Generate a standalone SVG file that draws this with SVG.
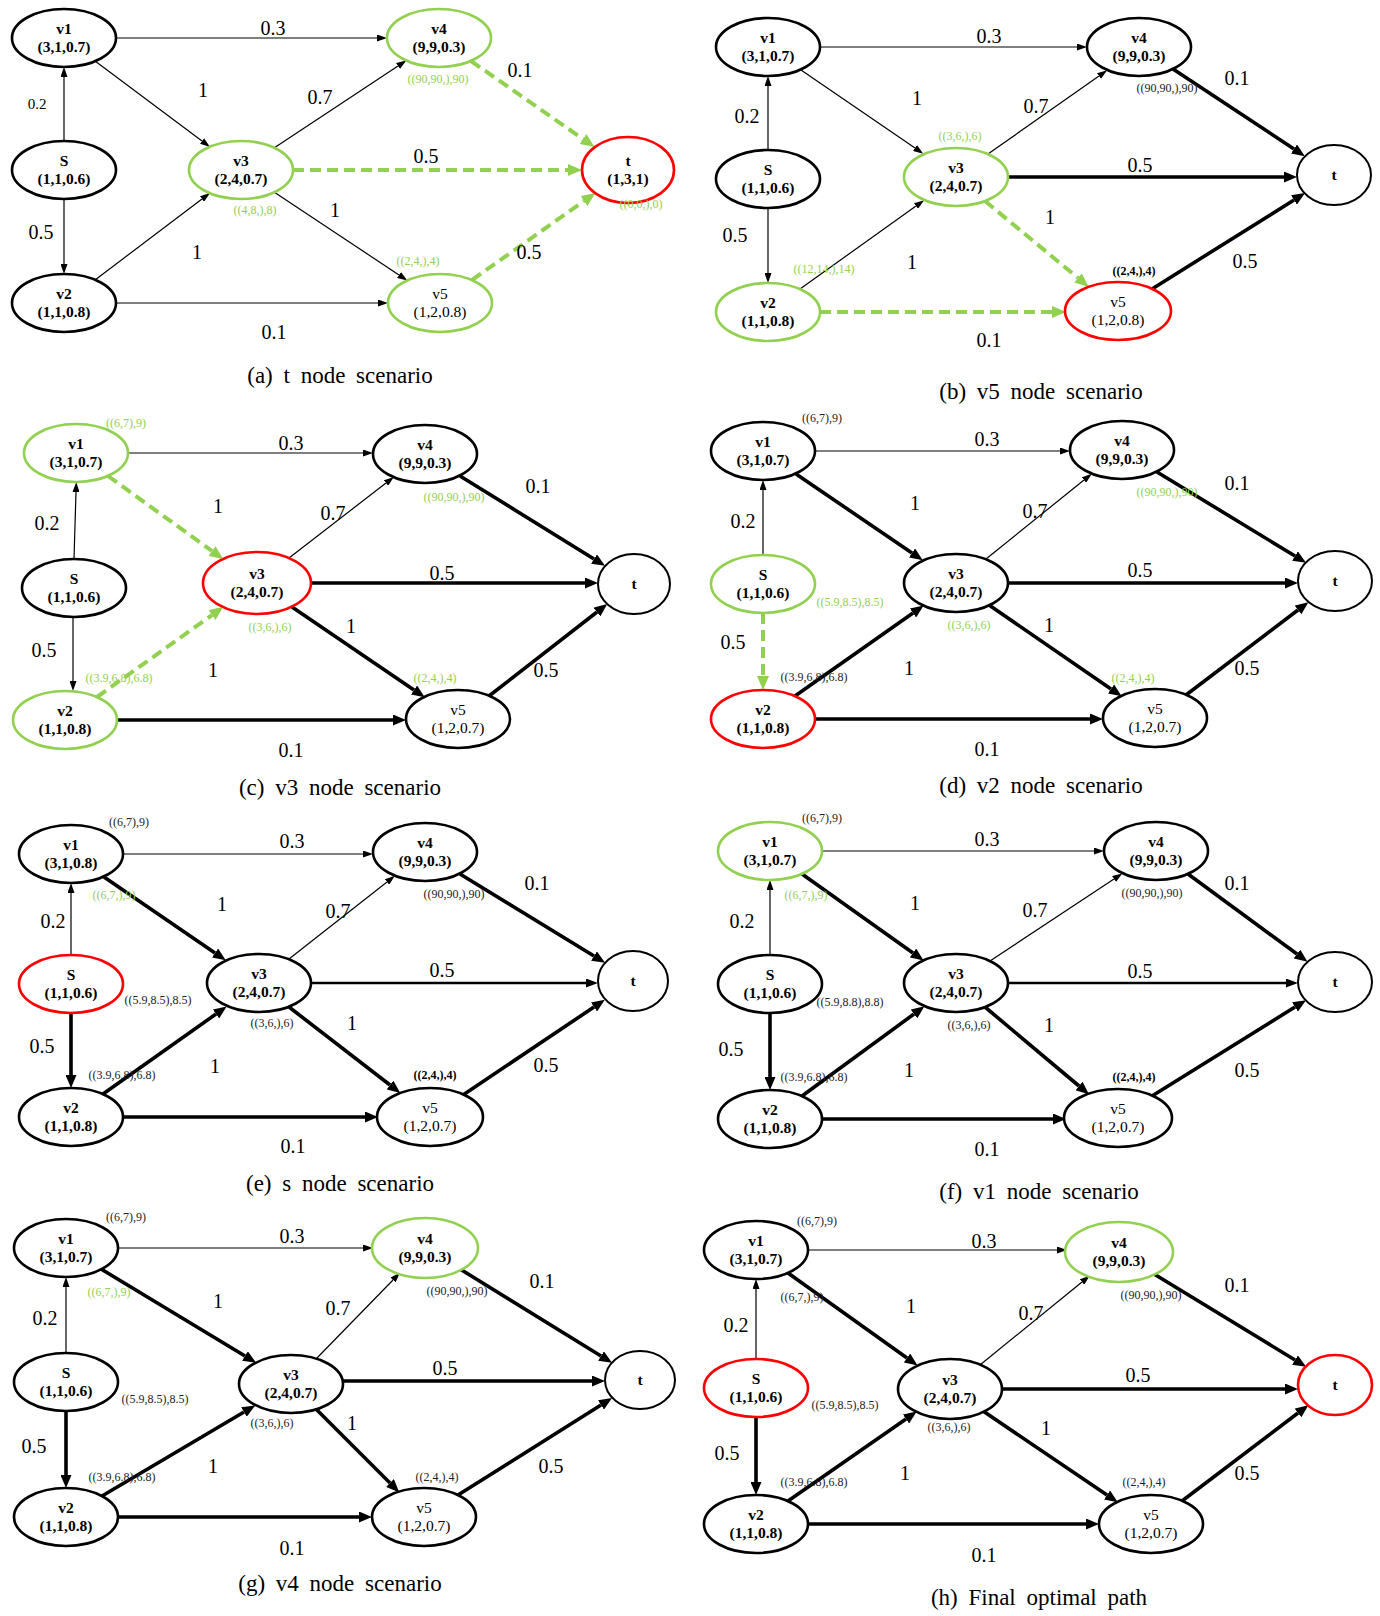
<svg xmlns="http://www.w3.org/2000/svg" width="1380" height="1616" viewBox="0 0 1380 1616">
<style>
text{font-family:"Liberation Serif","Times New Roman",serif;text-anchor:middle}
.nb{fill:#fff;stroke:#000;stroke-width:2.6}
.ng{fill:#fff;stroke:#92D050;stroke-width:2.6}
.nr{fill:#fff;stroke:#f00;stroke-width:2.6}
.nt{fill:#fff;stroke:#000;stroke-width:2}
.b{font-size:15.5px;font-weight:bold}
.r{font-size:15.5px}
.w{font-size:20px}
.s{font-size:12px;fill:#222}
.sb{font-size:12px;fill:#000;font-weight:bold}
.g{font-size:12px;fill:#92D050}
.cap{font-size:23px;word-spacing:5px}
line{fill:none}
.e1{stroke:#000;stroke-width:1.2;marker-end:url(#m1)}
.e2{stroke:#000;stroke-width:2.4;marker-end:url(#m2)}
.e3{stroke:#000;stroke-width:3.6;marker-end:url(#m3)}
.eg{stroke:#92D050;stroke-width:4;stroke-dasharray:11 6;marker-end:url(#mg)}
</style>
<defs>
<marker id="m1" markerUnits="userSpaceOnUse" viewBox="0 0 10 7" markerWidth="10" markerHeight="7" refX="0" refY="3.5" orient="auto"><path d="M0,0 L10,3.5 L0,7 z" fill="#000"/></marker>
<marker id="m2" markerUnits="userSpaceOnUse" viewBox="0 0 12 9" markerWidth="12" markerHeight="9" refX="0" refY="4.5" orient="auto"><path d="M0,0 L12,4.5 L0,9 z" fill="#000"/></marker>
<marker id="m3" markerUnits="userSpaceOnUse" viewBox="0 0 13 11" markerWidth="13" markerHeight="11" refX="0" refY="5.5" orient="auto"><path d="M0,0 L13,5.5 L0,11 z" fill="#000"/></marker>
<marker id="mg" markerUnits="userSpaceOnUse" viewBox="0 0 14 12" markerWidth="14" markerHeight="12" refX="0" refY="6" orient="auto"><path d="M0,0 L14,6 L0,12 z" fill="#92D050"/></marker>
</defs>
<rect width="1380" height="1616" fill="#fff"/>

<!-- Panel a -->
<g id="panel-a">
<g id="a-edges">
<line class="e1" x1="64" y1="141" x2="64" y2="77"/>
<line class="e1" x1="64" y1="199" x2="64" y2="264"/>
<line class="e1" x1="116" y1="38" x2="377" y2="38"/>
<line class="e1" x1="116" y1="303" x2="378" y2="303"/>
<line class="e1" x1="95" y1="61" x2="202" y2="141"/>
<line class="e1" x1="95" y1="280" x2="202" y2="199"/>
<line class="e1" x1="274" y1="148" x2="398" y2="66"/>
<line class="e1" x1="274" y1="192" x2="399" y2="275"/>
<line class="eg" x1="293" y1="170" x2="568" y2="170"/>
<line class="eg" x1="471" y1="61" x2="583" y2="139"/>
<line class="eg" x1="472" y1="280" x2="584" y2="201"/>
</g>
<g id="a-v1"><ellipse class="nb" cx="64" cy="38" rx="52" ry="29"/><text class="b" x="64" y="34">v1</text><text class="b" x="64" y="52">(3,1,0.7)</text></g>
<g id="a-s"><ellipse class="nb" cx="64" cy="170" rx="52" ry="29"/><text class="b" x="64" y="166">S</text><text class="b" x="64" y="184">(1,1,0.6)</text></g>
<g id="a-v2"><ellipse class="nb" cx="64" cy="303" rx="52" ry="29"/><text class="b" x="64" y="299">v2</text><text class="b" x="64" y="317">(1,1,0.8)</text></g>
<g id="a-v3"><ellipse class="ng" cx="241" cy="170" rx="52" ry="29"/><text class="b" x="241" y="166">v3</text><text class="b" x="241" y="184">(2,4,0.7)</text></g>
<g id="a-v4"><ellipse class="ng" cx="439" cy="38" rx="52" ry="29"/><text class="b" x="439" y="34">v4</text><text class="b" x="439" y="52">(9,9,0.3)</text></g>
<g id="a-v5"><ellipse class="ng" cx="440" cy="303" rx="52" ry="29"/><text class="r" x="440" y="299">v5</text><text class="r" x="440" y="317">(1,2,0.8)</text></g>
<g id="a-t"><ellipse class="nr" cx="628" cy="170" rx="46" ry="33"/><text class="b" x="628" y="166">t</text><text class="b" x="628" y="184">(1,3,1)</text></g>
<g id="a-labels">
<text class="w" x="273" y="35">0.3</text>
<text class="w" x="203" y="97">1</text>
<text class="w" x="320" y="104">0.7</text>
<text class="w" x="520" y="77">0.1</text>
<text class="w" x="426" y="163">0.5</text>
<text class="w" x="335" y="217">1</text>
<text class="w" x="197" y="259">1</text>
<text class="w" x="529" y="259">0.5</text>
<text class="w" x="274" y="339">0.1</text>
<text class="w" x="37" y="109" style="font-size:15px">0.2</text>
<text class="w" x="41" y="239">0.5</text>
<text class="g" x="438" y="83">((90,90,),90)</text>
<text class="g" x="255" y="214">((4,8,),8)</text>
<text class="g" x="418" y="265">((2,4,),4)</text>
<text class="g" x="641" y="208">((0,0,),0)</text>
<text class="cap" x="340" y="383">(a) t node scenario</text>
</g>
</g>

<!-- Panel b -->
<g id="panel-b">
<g id="b-edges">
<line class="e1" x1="768" y1="150" x2="768" y2="86"/>
<line class="e1" x1="768" y1="208" x2="768" y2="273"/>
<line class="e1" x1="820" y1="47" x2="1077" y2="47"/>
<line class="eg" x1="820" y1="312" x2="1052" y2="312"/>
<line class="e1" x1="801" y1="70" x2="915" y2="148"/>
<line class="e1" x1="800" y1="289" x2="916" y2="206"/>
<line class="e1" x1="988" y1="154" x2="1099" y2="76"/>
<line class="eg" x1="985" y1="201" x2="1078" y2="278"/>
<line class="e3" x1="1008" y1="177" x2="1284" y2="177"/>
<line class="e3" x1="1173" y1="69" x2="1294" y2="149"/>
<line class="e3" x1="1152" y1="289" x2="1294" y2="200"/>
</g>
<g id="b-v1"><ellipse class="nb" cx="768" cy="47" rx="52" ry="29"/><text class="b" x="768" y="43">v1</text><text class="b" x="768" y="61">(3,1,0.7)</text></g>
<g id="b-s"><ellipse class="nb" cx="768" cy="179" rx="52" ry="29"/><text class="b" x="768" y="175">S</text><text class="b" x="768" y="193">(1,1,0.6)</text></g>
<g id="b-v2"><ellipse class="ng" cx="768" cy="312" rx="52" ry="29"/><text class="b" x="768" y="308">v2</text><text class="b" x="768" y="326">(1,1,0.8)</text></g>
<g id="b-v3"><ellipse class="ng" cx="956" cy="177" rx="52" ry="29"/><text class="b" x="956" y="173">v3</text><text class="b" x="956" y="191">(2,4,0.7)</text></g>
<g id="b-v4"><ellipse class="nb" cx="1139" cy="47" rx="52" ry="29"/><text class="b" x="1139" y="43">v4</text><text class="b" x="1139" y="61">(9,9,0.3)</text></g>
<g id="b-v5"><ellipse class="nr" cx="1118" cy="311" rx="53" ry="29"/><text class="r" x="1118" y="307">v5</text><text class="r" x="1118" y="325">(1,2,0.8)</text></g>
<g id="b-t"><ellipse class="nt" cx="1334" cy="175" rx="37" ry="30"/><text class="b" x="1334" y="180">t</text></g>
<g id="b-labels">
<text class="w" x="989" y="43">0.3</text>
<text class="w" x="917" y="105">1</text>
<text class="w" x="1036" y="113">0.7</text>
<text class="w" x="1237" y="85">0.1</text>
<text class="s" x="1167" y="92">((90,90,),90)</text>
<text class="g" x="960" y="140">((3,6,),6)</text>
<text class="w" x="1140" y="172">0.5</text>
<text class="w" x="747" y="123">0.2</text>
<text class="w" x="735" y="242">0.5</text>
<text class="w" x="1050" y="224">1</text>
<text class="w" x="912" y="269">1</text>
<text class="g" x="824" y="273">((12,14,),14)</text>
<text class="sb" x="1134" y="275">((2,4,),4)</text>
<text class="w" x="1245" y="268">0.5</text>
<text class="w" x="989" y="347">0.1</text>
<text class="cap" x="1041" y="399">(b) v5 node scenario</text>
</g>
</g>

<!-- Panel c -->
<g id="panel-c">
<g id="c-edges">
<line class="e1" x1="74" y1="559" x2="76" y2="492"/>
<line class="e1" x1="73" y1="617" x2="73" y2="681"/>
<line class="e1" x1="128" y1="453" x2="363" y2="453"/>
<line class="e3" x1="117" y1="720" x2="393" y2="720"/>
<line class="eg" x1="108" y1="476" x2="212" y2="551"/>
<line class="eg" x1="97" y1="697" x2="212" y2="615"/>
<line class="e1" x1="289" y1="558" x2="386" y2="483"/>
<line class="e3" x1="292" y1="607" x2="414" y2="690"/>
<line class="e3" x1="311" y1="583" x2="585" y2="583"/>
<line class="e3" x1="460" y1="476" x2="594" y2="559"/>
<line class="e3" x1="489" y1="696" x2="597" y2="612"/>
</g>
<g id="c-v1"><ellipse class="ng" cx="76" cy="453" rx="52" ry="29"/><text class="b" x="76" y="449">v1</text><text class="b" x="76" y="467">(3,1,0.7)</text></g>
<g id="c-s"><ellipse class="nb" cx="74" cy="588" rx="52" ry="29"/><text class="b" x="74" y="584">S</text><text class="b" x="74" y="602">(1,1,0.6)</text></g>
<g id="c-v2"><ellipse class="ng" cx="65" cy="720" rx="52" ry="29"/><text class="b" x="65" y="716">v2</text><text class="b" x="65" y="734">(1,1,0.8)</text></g>
<g id="c-v3"><ellipse class="nr" cx="257" cy="583" rx="54" ry="31"/><text class="b" x="257" y="579">v3</text><text class="b" x="257" y="597">(2,4,0.7)</text></g>
<g id="c-v4"><ellipse class="nb" cx="425" cy="454" rx="52" ry="29"/><text class="b" x="425" y="450">v4</text><text class="b" x="425" y="468">(9,9,0.3)</text></g>
<g id="c-v5"><ellipse class="nb" cx="458" cy="719" rx="52" ry="29"/><text class="r" x="458" y="715">v5</text><text class="r" x="458" y="733">(1,2,0.7)</text></g>
<g id="c-t"><ellipse class="nt" cx="634" cy="584" rx="36" ry="30"/><text class="b" x="634" y="589">t</text></g>
<g id="c-labels">
<text class="g" x="126" y="427">((6,7),9)</text>
<text class="w" x="291" y="450">0.3</text>
<text class="w" x="218" y="513">1</text>
<text class="w" x="333" y="520">0.7</text>
<text class="w" x="538" y="493">0.1</text>
<text class="g" x="454" y="501">((90,90,),90)</text>
<text class="w" x="47" y="530">0.2</text>
<text class="w" x="442" y="580">0.5</text>
<text class="g" x="270" y="631">((3,6,),6)</text>
<text class="w" x="351" y="633">1</text>
<text class="w" x="44" y="657">0.5</text>
<text class="w" x="213" y="677">1</text>
<text class="g" x="119" y="682">((3.9,6.8),6.8)</text>
<text class="g" x="435" y="682">((2,4,),4)</text>
<text class="w" x="546" y="677">0.5</text>
<text class="w" x="291" y="757">0.1</text>
<text class="cap" x="340" y="795">(c) v3 node scenario</text>
</g>
</g>

<!-- Panel d -->
<g id="panel-d">
<g id="d-edges">
<line class="e1" x1="763" y1="555" x2="763" y2="490"/>
<line class="eg" x1="763" y1="613" x2="763" y2="676"/>
<line class="e1" x1="815" y1="451" x2="1060" y2="451"/>
<line class="e3" x1="815" y1="719" x2="1090" y2="719"/>
<line class="e3" x1="796" y1="474" x2="912" y2="553"/>
<line class="e3" x1="795" y1="696" x2="913" y2="613"/>
<line class="e1" x1="986" y1="559" x2="1084" y2="480"/>
<line class="e3" x1="989" y1="605" x2="1111" y2="689"/>
<line class="e3" x1="1008" y1="583" x2="1285" y2="583"/>
<line class="e3" x1="1157" y1="472" x2="1295" y2="556"/>
<line class="e3" x1="1186" y1="695" x2="1298" y2="610"/>
</g>
<g id="d-v1"><ellipse class="nb" cx="763" cy="451" rx="52" ry="29"/><text class="b" x="763" y="447">v1</text><text class="b" x="763" y="465">(3,1,0.7)</text></g>
<g id="d-s"><ellipse class="ng" cx="763" cy="584" rx="52" ry="29"/><text class="b" x="763" y="580">S</text><text class="b" x="763" y="598">(1,1,0.6)</text></g>
<g id="d-v2"><ellipse class="nr" cx="763" cy="719" rx="52" ry="29"/><text class="b" x="763" y="715">v2</text><text class="b" x="763" y="733">(1,1,0.8)</text></g>
<g id="d-v3"><ellipse class="nb" cx="956" cy="583" rx="52" ry="29"/><text class="b" x="956" y="579">v3</text><text class="b" x="956" y="597">(2,4,0.7)</text></g>
<g id="d-v4"><ellipse class="nb" cx="1122" cy="450" rx="52" ry="29"/><text class="b" x="1122" y="446">v4</text><text class="b" x="1122" y="464">(9,9,0.3)</text></g>
<g id="d-v5"><ellipse class="nb" cx="1155" cy="718" rx="52" ry="29"/><text class="r" x="1155" y="714">v5</text><text class="r" x="1155" y="732">(1,2,0.7)</text></g>
<g id="d-t"><ellipse class="nt" cx="1335" cy="581" rx="37" ry="30"/><text class="b" x="1335" y="586">t</text></g>
<g id="d-labels">
<text class="s" x="822" y="422">((6,7),9)</text>
<text class="w" x="987" y="446">0.3</text>
<text class="w" x="915" y="510">1</text>
<text class="w" x="1035" y="518">0.7</text>
<text class="w" x="1237" y="490">0.1</text>
<text class="g" x="1167" y="496">((90,90,),90)</text>
<text class="w" x="743" y="528">0.2</text>
<text class="w" x="1140" y="577">0.5</text>
<text class="g" x="850" y="606">((5.9,8.5),8.5)</text>
<text class="g" x="969" y="629">((3,6,),6)</text>
<text class="w" x="1049" y="632">1</text>
<text class="w" x="733" y="649">0.5</text>
<text class="w" x="909" y="675">1</text>
<text class="s" x="814" y="681">((3.9,6.8),6.8)</text>
<text class="g" x="1133" y="682">((2,4,),4)</text>
<text class="w" x="1247" y="675">0.5</text>
<text class="w" x="987" y="756">0.1</text>
<text class="cap" x="1041" y="793">(d) v2 node scenario</text>
</g>
</g>

<!-- Panel e -->
<g id="panel-e">
<g id="e-edges">
<line class="e1" x1="71" y1="955" x2="71" y2="893"/>
<line class="e3" x1="71" y1="1013" x2="71" y2="1075"/>
<line class="e1" x1="123" y1="854" x2="363" y2="854"/>
<line class="e3" x1="123" y1="1117" x2="365" y2="1117"/>
<line class="e3" x1="104" y1="877" x2="215" y2="953"/>
<line class="e3" x1="103" y1="1094" x2="216" y2="1014"/>
<line class="e1" x1="289" y1="959" x2="387" y2="882"/>
<line class="e3" x1="289" y1="1007" x2="390" y2="1085"/>
<line class="e2" x1="311" y1="983" x2="586" y2="983"/>
<line class="e3" x1="460" y1="874" x2="594" y2="956"/>
<line class="e3" x1="463" y1="1095" x2="594" y2="1007"/>
</g>
<g id="e-v1"><ellipse class="nb" cx="71" cy="854" rx="52" ry="29"/><text class="b" x="71" y="850">v1</text><text class="b" x="71" y="868">(3,1,0.8)</text></g>
<g id="e-s"><ellipse class="nr" cx="71" cy="984" rx="52" ry="29"/><text class="b" x="71" y="980">S</text><text class="b" x="71" y="998">(1,1,0.6)</text></g>
<g id="e-v2"><ellipse class="nb" cx="71" cy="1117" rx="52" ry="29"/><text class="b" x="71" y="1113">v2</text><text class="b" x="71" y="1131">(1,1,0.8)</text></g>
<g id="e-v3"><ellipse class="nb" cx="259" cy="983" rx="52" ry="29"/><text class="b" x="259" y="979">v3</text><text class="b" x="259" y="997">(2,4,0.7)</text></g>
<g id="e-v4"><ellipse class="nb" cx="425" cy="852" rx="52" ry="29"/><text class="b" x="425" y="848">v4</text><text class="b" x="425" y="866">(9,9,0.3)</text></g>
<g id="e-v5"><ellipse class="nb" cx="430" cy="1117" rx="53" ry="29"/><text class="r" x="430" y="1113">v5</text><text class="r" x="430" y="1131">(1,2,0.7)</text></g>
<g id="e-t"><ellipse class="nt" cx="633" cy="981" rx="35" ry="30"/><text class="b" x="633" y="986">t</text></g>
<g id="e-labels">
<text class="s" x="129" y="826">((6,7),9)</text>
<text class="w" x="292" y="848">0.3</text>
<text class="g" x="114" y="899">((6,7,),9)</text>
<text class="w" x="222" y="911">1</text>
<text class="w" x="338" y="918">0.7</text>
<text class="w" x="537" y="890">0.1</text>
<text class="s" x="454" y="898">((90,90,),90)</text>
<text class="w" x="53" y="928">0.2</text>
<text class="w" x="442" y="977">0.5</text>
<text class="s" x="158" y="1004">((5.9,8.5),8.5)</text>
<text class="s" x="272" y="1027">((3,6,),6)</text>
<text class="w" x="352" y="1030">1</text>
<text class="w" x="42" y="1053">0.5</text>
<text class="s" x="122" y="1079">((3.9,6.8),6.8)</text>
<text class="w" x="215" y="1073">1</text>
<text class="sb" x="435" y="1079">((2,4,),4)</text>
<text class="w" x="546" y="1072">0.5</text>
<text class="w" x="293" y="1153">0.1</text>
<text class="cap" x="340" y="1191">(e) s node scenario</text>
</g>
</g>

<!-- Panel f -->
<g id="panel-f">
<g id="f-edges">
<line class="e1" x1="770" y1="955" x2="770" y2="890"/>
<line class="e3" x1="770" y1="1013" x2="770" y2="1077"/>
<line class="e1" x1="822" y1="851" x2="1094" y2="851"/>
<line class="e3" x1="822" y1="1119" x2="1053" y2="1119"/>
<line class="e3" x1="802" y1="874" x2="913" y2="953"/>
<line class="e3" x1="802" y1="1096" x2="914" y2="1014"/>
<line class="e1" x1="990" y1="961" x2="1114" y2="879"/>
<line class="e3" x1="985" y1="1007" x2="1079" y2="1086"/>
<line class="e2" x1="1008" y1="983" x2="1286" y2="983"/>
<line class="e3" x1="1188" y1="874" x2="1297" y2="954"/>
<line class="e3" x1="1152" y1="1096" x2="1295" y2="1007"/>
</g>
<g id="f-v1"><ellipse class="ng" cx="770" cy="851" rx="52" ry="29"/><text class="b" x="770" y="847">v1</text><text class="b" x="770" y="865">(3,1,0.7)</text></g>
<g id="f-s"><ellipse class="nb" cx="770" cy="984" rx="52" ry="29"/><text class="b" x="770" y="980">S</text><text class="b" x="770" y="998">(1,1,0.6)</text></g>
<g id="f-v2"><ellipse class="nb" cx="770" cy="1119" rx="52" ry="29"/><text class="b" x="770" y="1115">v2</text><text class="b" x="770" y="1133">(1,1,0.8)</text></g>
<g id="f-v3"><ellipse class="nb" cx="956" cy="983" rx="52" ry="29"/><text class="b" x="956" y="979">v3</text><text class="b" x="956" y="997">(2,4,0.7)</text></g>
<g id="f-v4"><ellipse class="nb" cx="1156" cy="851" rx="52" ry="29"/><text class="b" x="1156" y="847">v4</text><text class="b" x="1156" y="865">(9,9,0.3)</text></g>
<g id="f-v5"><ellipse class="nb" cx="1118" cy="1118" rx="54" ry="29"/><text class="r" x="1118" y="1114">v5</text><text class="r" x="1118" y="1132">(1,2,0.7)</text></g>
<g id="f-t"><ellipse class="nt" cx="1335" cy="982" rx="37" ry="30"/><text class="b" x="1335" y="987">t</text></g>
<g id="f-labels">
<text class="s" x="822" y="822">((6,7),9)</text>
<text class="w" x="987" y="846">0.3</text>
<text class="g" x="806" y="899">((6,7,),9)</text>
<text class="w" x="915" y="910">1</text>
<text class="w" x="1035" y="917">0.7</text>
<text class="w" x="1237" y="890">0.1</text>
<text class="s" x="1152" y="897">((90,90,),90)</text>
<text class="w" x="742" y="928">0.2</text>
<text class="w" x="1140" y="978">0.5</text>
<text class="s" x="850" y="1006">((5.9,8.8),8.8)</text>
<text class="s" x="969" y="1029">((3,6,),6)</text>
<text class="w" x="1049" y="1032">1</text>
<text class="w" x="731" y="1056">0.5</text>
<text class="s" x="814" y="1081">((3.9,6.8),6.8)</text>
<text class="w" x="909" y="1077">1</text>
<text class="sb" x="1134" y="1081">((2,4,),4)</text>
<text class="w" x="1247" y="1077">0.5</text>
<text class="w" x="987" y="1156">0.1</text>
<text class="cap" x="1039" y="1199">(f) v1 node scenario</text>
</g>
</g>

<!-- Panel g -->
<g id="panel-g">
<g id="g-edges">
<line class="e1" x1="66" y1="1353" x2="66" y2="1287"/>
<line class="e3" x1="66" y1="1411" x2="66" y2="1475"/>
<line class="e1" x1="118" y1="1248" x2="363" y2="1248"/>
<line class="e3" x1="118" y1="1517" x2="359" y2="1517"/>
<line class="e3" x1="101" y1="1269" x2="245" y2="1356"/>
<line class="e3" x1="102" y1="1496" x2="244" y2="1412"/>
<line class="e1" x1="316" y1="1359" x2="393" y2="1280"/>
<line class="e3" x1="316" y1="1409" x2="390" y2="1483"/>
<line class="e3" x1="343" y1="1381" x2="592" y2="1381"/>
<line class="e3" x1="460" y1="1269" x2="601" y2="1356"/>
<line class="e3" x1="458" y1="1495" x2="601" y2="1405"/>
</g>
<g id="g-v1"><ellipse class="nb" cx="66" cy="1248" rx="52" ry="29"/><text class="b" x="66" y="1244">v1</text><text class="b" x="66" y="1262">(3,1,0.7)</text></g>
<g id="g-s"><ellipse class="nb" cx="66" cy="1382" rx="52" ry="29"/><text class="b" x="66" y="1378">S</text><text class="b" x="66" y="1396">(1,1,0.6)</text></g>
<g id="g-v2"><ellipse class="nb" cx="66" cy="1517" rx="52" ry="29"/><text class="b" x="66" y="1513">v2</text><text class="b" x="66" y="1531">(1,1,0.8)</text></g>
<g id="g-v3"><ellipse class="nb" cx="291" cy="1384" rx="52" ry="29"/><text class="b" x="291" y="1380">v3</text><text class="b" x="291" y="1398">(2,4,0.7)</text></g>
<g id="g-v4"><ellipse class="ng" cx="425" cy="1248" rx="53" ry="30"/><text class="b" x="425" y="1244">v4</text><text class="b" x="425" y="1262">(9,9,0.3)</text></g>
<g id="g-v5"><ellipse class="nb" cx="424" cy="1517" rx="52" ry="29"/><text class="r" x="424" y="1513">v5</text><text class="r" x="424" y="1531">(1,2,0.7)</text></g>
<g id="g-t"><ellipse class="nt" cx="640" cy="1380" rx="35" ry="29"/><text class="b" x="640" y="1385">t</text></g>
<g id="g-labels">
<text class="s" x="126" y="1221">((6,7),9)</text>
<text class="w" x="292" y="1243">0.3</text>
<text class="g" x="109" y="1296">((6,7,),9)</text>
<text class="w" x="218" y="1308">1</text>
<text class="w" x="338" y="1315">0.7</text>
<text class="w" x="542" y="1288">0.1</text>
<text class="s" x="457" y="1295">((90,90,),90)</text>
<text class="w" x="45" y="1325">0.2</text>
<text class="w" x="445" y="1375">0.5</text>
<text class="s" x="155" y="1403">((5.9,8.5),8.5)</text>
<text class="s" x="272" y="1427">((3,6,),6)</text>
<text class="w" x="352" y="1430">1</text>
<text class="w" x="34" y="1453">0.5</text>
<text class="s" x="122" y="1481">((3.9,6.8),6.8)</text>
<text class="w" x="213" y="1473">1</text>
<text class="s" x="437" y="1481">((2,4,),4)</text>
<text class="w" x="551" y="1473">0.5</text>
<text class="w" x="292" y="1555">0.1</text>
<text class="cap" x="340" y="1591">(g) v4 node scenario</text>
</g>
</g>

<!-- Panel h -->
<g id="panel-h">
<g id="h-edges">
<line class="e1" x1="756" y1="1359" x2="756" y2="1289"/>
<line class="e3" x1="756" y1="1417" x2="756" y2="1482"/>
<line class="e1" x1="808" y1="1250" x2="1057" y2="1250"/>
<line class="e3" x1="808" y1="1524" x2="1086" y2="1524"/>
<line class="e3" x1="788" y1="1273" x2="907" y2="1358"/>
<line class="e3" x1="788" y1="1501" x2="906" y2="1419"/>
<line class="e1" x1="980" y1="1365" x2="1082" y2="1282"/>
<line class="e3" x1="983" y1="1411" x2="1107" y2="1495"/>
<line class="e3" x1="1002" y1="1389" x2="1285" y2="1389"/>
<line class="e3" x1="1154" y1="1274" x2="1295" y2="1360"/>
<line class="e3" x1="1182" y1="1501" x2="1298" y2="1413"/>
</g>
<g id="h-v1"><ellipse class="nb" cx="756" cy="1250" rx="52" ry="29"/><text class="b" x="756" y="1246">v1</text><text class="b" x="756" y="1264">(3,1,0.7)</text></g>
<g id="h-s"><ellipse class="nr" cx="756" cy="1388" rx="52" ry="29"/><text class="b" x="756" y="1384">S</text><text class="b" x="756" y="1402">(1,1,0.6)</text></g>
<g id="h-v2"><ellipse class="nb" cx="756" cy="1524" rx="52" ry="29"/><text class="b" x="756" y="1520">v2</text><text class="b" x="756" y="1538">(1,1,0.8)</text></g>
<g id="h-v3"><ellipse class="nb" cx="950" cy="1389" rx="52" ry="30"/><text class="b" x="950" y="1385">v3</text><text class="b" x="950" y="1403">(2,4,0.7)</text></g>
<g id="h-v4"><ellipse class="ng" cx="1119" cy="1252" rx="54" ry="30"/><text class="b" x="1119" y="1248">v4</text><text class="b" x="1119" y="1266">(9,9,0.3)</text></g>
<g id="h-v5"><ellipse class="nb" cx="1151" cy="1524" rx="52" ry="29"/><text class="r" x="1151" y="1520">v5</text><text class="r" x="1151" y="1538">(1,2,0.7)</text></g>
<g id="h-t"><ellipse class="nr" cx="1335" cy="1385" rx="37" ry="30"/><text class="b" x="1335" y="1390">t</text></g>
<g id="h-labels">
<text class="s" x="817" y="1225">((6,7),9)</text>
<text class="w" x="984" y="1248">0.3</text>
<text class="s" x="802" y="1301">((6,7,),9)</text>
<text class="w" x="911" y="1313">1</text>
<text class="w" x="1031" y="1320">0.7</text>
<text class="w" x="1237" y="1292">0.1</text>
<text class="s" x="1151" y="1299">((90,90,),90)</text>
<text class="w" x="736" y="1332">0.2</text>
<text class="w" x="1138" y="1382">0.5</text>
<text class="s" x="845" y="1409">((5.9,8.5),8.5)</text>
<text class="s" x="949" y="1431">((3,6,),6)</text>
<text class="w" x="1046" y="1435">1</text>
<text class="w" x="727" y="1460">0.5</text>
<text class="s" x="814" y="1486">((3.9,6.8),6.8)</text>
<text class="w" x="905" y="1480">1</text>
<text class="s" x="1144" y="1486">((2,4,),4)</text>
<text class="w" x="1247" y="1480">0.5</text>
<text class="w" x="984" y="1562">0.1</text>
<text class="cap" x="1039" y="1605">(h) Final optimal path</text>
</g>
</g>
</svg>
